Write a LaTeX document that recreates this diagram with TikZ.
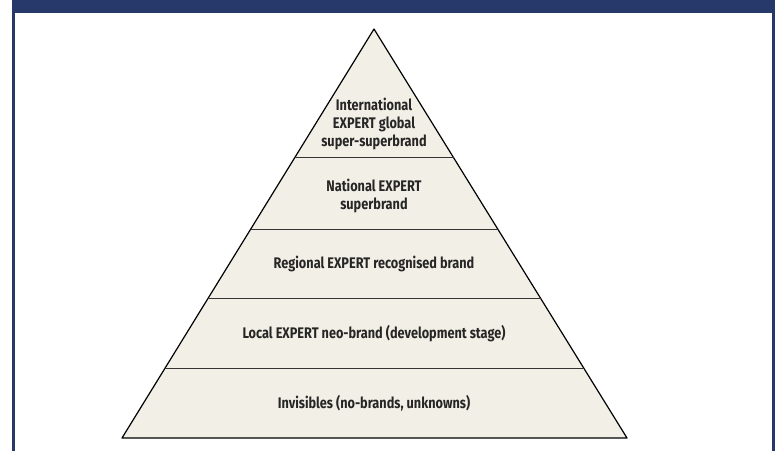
\documentclass[tikz,border=0pt]{standalone}
\usepackage{fontspec}
\newfontfamily\levelfont{Fira Sans}[FakeStretch=0.83]
\usetikzlibrary{calc}
\definecolor{navy}{HTML}{27386A}
\definecolor{cream}{HTML}{F2F0E6}

\begin{document}
\begin{tikzpicture}[x=0.75pt,y=-0.75pt,
  level/.style={font=\levelfont\bfseries\fontsize{11.5}{13.8}\selectfont,align=center,text=black!85}]
\useasboundingbox (0,0) rectangle (782,451);
\fill[navy] (12,0) rectangle (775,13);
\fill[navy] (12,0) rectangle (15,451);
\fill[navy] (772,0) rectangle (775,451);
\coordinate (apex) at (374,29);
\coordinate (bl) at (122,438);
\coordinate (br) at (627,438);
\filldraw[fill=cream,draw=black,line width=0.9pt,line join=round] (apex) -- (bl) -- (br) -- cycle;
\foreach \t/\n in {0.315/1,0.489/2,0.660/3,0.829/4}
  \draw[black!80,line width=0.75pt] ($(apex)!\t!(bl)$) coordinate (l\n) -- ($(apex)!\t!(br)$) coordinate (r\n);
\node (intl)  at (374,124) [level] {International\\EXPERT global\\super-superbrand};
\node (natl)  at (374,196) [level] {National EXPERT\\superbrand};
\node (regn)  at (374,264) [level] {Regional EXPERT recognised brand};
\node (local) at (374,334) [level] {Local EXPERT neo-brand (development stage)};
\node (invis) at (374,403) [level] {Invisibles (no-brands, unknowns)};
\end{tikzpicture}
\end{document}
